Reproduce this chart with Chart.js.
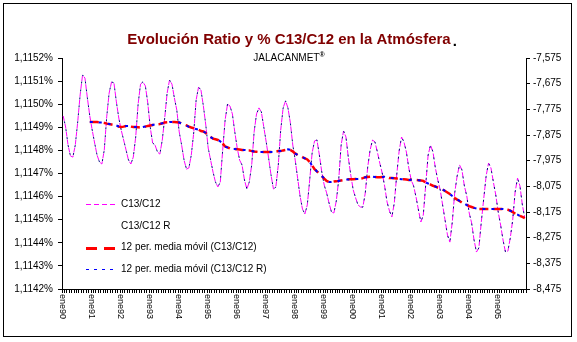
<!doctype html>
<html lang="es">
<head>
    <meta charset="UTF-8">
    <title>Evolución Ratio y % C13/C12 en la Atmósfera</title>
    <script src="https://cdn.jsdelivr.net/npm/chart.js"></script>
    <style>
        body { margin: 0; background: #fff; }
        #grafico { display: block; }
    </style>
</head>
<body>
<canvas id="grafico" width="577" height="342"></canvas>
<script>
// categorías: meses ene90 .. dic05
const meses = ['ene', 'feb', 'mar', 'abr', 'may', 'jun', 'jul', 'ago', 'sep', 'oct', 'nov', 'dic'];
const anios = ['90', '91', '92', '93', '94', '95', '96', '97', '98', '99', '00', '01', '02', '03', '04', '05'];

// marcas de los ejes
const ticksIzq = [1.1142, 1.1143, 1.1144, 1.1145, 1.1146, 1.1147, 1.1148, 1.1149, 1.1150, 1.1151, 1.1152];
const ticksDer = [-8.475, -8.375, -8.275, -8.175, -8.075, -7.975, -7.875, -7.775, -7.675, -7.575];

// C13/C12 (%), eje izquierdo
const ratio = [
    1.114949, 1.114901, 1.114823, 1.114776, 1.114771, 1.114823, 1.114923, 1.115040, 1.115126, 1.115113, 1.115027, 1.114949,
    1.114888, 1.114832, 1.114780, 1.114750, 1.114741, 1.114802, 1.114945, 1.115048, 1.115096, 1.115092, 1.115010, 1.114940,
    1.114888, 1.114845, 1.114802, 1.114758, 1.114741, 1.114771, 1.114858, 1.115001, 1.115087, 1.115096, 1.115079, 1.115005,
    1.114901, 1.114832, 1.114823, 1.114793, 1.114784, 1.114845, 1.114940, 1.115048, 1.115105, 1.115087, 1.115027, 1.114975,
    1.114880, 1.114823, 1.114758, 1.114719, 1.114724, 1.114780, 1.114875, 1.115018, 1.115074, 1.115061, 1.114992, 1.114910,
    1.114810, 1.114758, 1.114706, 1.114663, 1.114642, 1.114663, 1.114802, 1.114932, 1.115001, 1.114992, 1.114958, 1.114880,
    1.114810, 1.114758, 1.114737, 1.114672, 1.114633, 1.114663, 1.114737, 1.114880, 1.114958, 1.114984, 1.114966, 1.114901,
    1.114836, 1.114767, 1.114693, 1.114633, 1.114642, 1.114737, 1.114888, 1.114984, 1.115014, 1.114984, 1.114919, 1.114823,
    1.114758, 1.114680, 1.114603, 1.114546, 1.114525, 1.114564, 1.114672, 1.114789, 1.114841, 1.114845, 1.114780, 1.114706,
    1.114650, 1.114616, 1.114572, 1.114533, 1.114529, 1.114581, 1.114672, 1.114823, 1.114884, 1.114858, 1.114767, 1.114693,
    1.114629, 1.114594, 1.114564, 1.114555, 1.114555, 1.114616, 1.114728, 1.114802, 1.114845, 1.114836, 1.114793, 1.114745,
    1.114702, 1.114646, 1.114577, 1.114538, 1.114512, 1.114572, 1.114693, 1.114797, 1.114858, 1.114836, 1.114793, 1.114724,
    1.114672, 1.114646, 1.114598, 1.114542, 1.114490, 1.114520, 1.114650, 1.114780, 1.114823, 1.114793, 1.114724, 1.114672,
    1.114629, 1.114564, 1.114499, 1.114434, 1.114403, 1.114490, 1.114616, 1.114689, 1.114737, 1.114715, 1.114646, 1.114603,
    1.114529, 1.114486, 1.114412, 1.114360, 1.114378, 1.114490, 1.114590, 1.114689, 1.114745, 1.114724, 1.114663, 1.114607,
    1.114533, 1.114477, 1.114412, 1.114360, 1.114364, 1.114421, 1.114499, 1.114620, 1.114680, 1.114646, 1.114564, 1.114507
];

// C13/C12 R (delta, por mil), eje derecho
const delta = [
    -7.801, -7.844, -7.914, -7.957, -7.961, -7.914, -7.824, -7.719, -7.641, -7.653, -7.731, -7.801,
    -7.856, -7.906, -7.953, -7.980, -7.988, -7.933, -7.805, -7.711, -7.668, -7.672, -7.746, -7.809,
    -7.856, -7.894, -7.933, -7.972, -7.988, -7.961, -7.883, -7.754, -7.676, -7.668, -7.684, -7.750,
    -7.844, -7.906, -7.914, -7.941, -7.949, -7.894, -7.809, -7.711, -7.661, -7.676, -7.731, -7.778,
    -7.863, -7.914, -7.972, -8.007, -8.004, -7.953, -7.867, -7.739, -7.688, -7.700, -7.762, -7.836,
    -7.926, -7.972, -8.019, -8.058, -8.078, -8.058, -7.933, -7.817, -7.754, -7.762, -7.793, -7.863,
    -7.926, -7.972, -7.992, -8.050, -8.085, -8.058, -7.992, -7.863, -7.793, -7.770, -7.785, -7.844,
    -7.902, -7.965, -8.031, -8.085, -8.078, -7.992, -7.856, -7.770, -7.742, -7.770, -7.828, -7.914,
    -7.972, -8.043, -8.113, -8.163, -8.183, -8.148, -8.050, -7.945, -7.898, -7.894, -7.953, -8.019,
    -8.070, -8.101, -8.140, -8.175, -8.179, -8.132, -8.050, -7.914, -7.859, -7.883, -7.965, -8.031,
    -8.089, -8.120, -8.148, -8.156, -8.156, -8.101, -8.000, -7.933, -7.894, -7.902, -7.941, -7.984,
    -8.023, -8.074, -8.136, -8.171, -8.194, -8.140, -8.031, -7.937, -7.883, -7.902, -7.941, -8.004,
    -8.050, -8.074, -8.117, -8.167, -8.214, -8.187, -8.070, -7.953, -7.914, -7.941, -8.004, -8.050,
    -8.089, -8.148, -8.206, -8.265, -8.292, -8.214, -8.101, -8.035, -7.992, -8.011, -8.074, -8.113,
    -8.179, -8.218, -8.284, -8.331, -8.315, -8.214, -8.124, -8.035, -7.984, -8.004, -8.058, -8.109,
    -8.175, -8.226, -8.284, -8.331, -8.327, -8.276, -8.206, -8.097, -8.043, -8.074, -8.148, -8.198
];

// 12 per. media móvil
const mediaRatio = [
    null, null, null, null, null, null, null, null, null, null, null, 1.114923,
    1.114923, 1.114923, 1.114923, 1.114922, 1.114921, 1.114919, 1.114916, 1.114914, 1.114912, 1.114910, 1.114908, 1.114903,
    1.114901, 1.114903, 1.114906, 1.114906, 1.114903, 1.114901, 1.114901, 1.114900, 1.114899, 1.114901, 1.114903, 1.114906,
    1.114908, 1.114910, 1.114912, 1.114913, 1.114914, 1.114917, 1.114921, 1.114922, 1.114923, 1.114923, 1.114923, 1.114922,
    1.114921, 1.114916, 1.114912, 1.114908, 1.114903, 1.114899, 1.114896, 1.114893, 1.114890, 1.114884, 1.114882, 1.114875,
    1.114864, 1.114858, 1.114851, 1.114848, 1.114845, 1.114838, 1.114830, 1.114817, 1.114813, 1.114808, 1.114806, 1.114806,
    1.114805, 1.114804, 1.114802, 1.114802, 1.114800, 1.114800, 1.114797, 1.114795, 1.114794, 1.114793, 1.114793, 1.114793,
    1.114793, 1.114793, 1.114793, 1.114793, 1.114795, 1.114797, 1.114797, 1.114800, 1.114802, 1.114804, 1.114802, 1.114795,
    1.114787, 1.114780, 1.114777, 1.114771, 1.114766, 1.114761, 1.114750, 1.114735, 1.114719, 1.114709, 1.114700, 1.114689,
    1.114678, 1.114668, 1.114663, 1.114663, 1.114665, 1.114666, 1.114668, 1.114670, 1.114672, 1.114674, 1.114675, 1.114675,
    1.114675, 1.114676, 1.114676, 1.114678, 1.114680, 1.114684, 1.114685, 1.114686, 1.114686, 1.114685, 1.114684, 1.114684,
    1.114685, 1.114686, 1.114683, 1.114680, 1.114680, 1.114679, 1.114678, 1.114676, 1.114675, 1.114675, 1.114674, 1.114672,
    1.114672, 1.114672, 1.114672, 1.114671, 1.114670, 1.114668, 1.114661, 1.114657, 1.114652, 1.114647, 1.114644, 1.114639,
    1.114636, 1.114631, 1.114624, 1.114618, 1.114611, 1.114603, 1.114594, 1.114587, 1.114581, 1.114574, 1.114570, 1.114564,
    1.114559, 1.114555, 1.114551, 1.114548, 1.114546, 1.114546, 1.114546, 1.114546, 1.114546, 1.114546, 1.114546, 1.114546,
    1.114546, 1.114546, 1.114546, 1.114545, 1.114543, 1.114539, 1.114533, 1.114527, 1.114523, 1.114516, 1.114512, 1.114507
];

const mediaDelta = [
    null, null, null, null, null, null, null, null, null, null, null, -7.824,
    -7.824, -7.824, -7.824, -7.826, -7.826, -7.828, -7.830, -7.832, -7.834, -7.836, -7.838, -7.842,
    -7.844, -7.842, -7.840, -7.840, -7.842, -7.844, -7.844, -7.845, -7.846, -7.844, -7.842, -7.840,
    -7.838, -7.836, -7.834, -7.833, -7.832, -7.829, -7.826, -7.826, -7.824, -7.824, -7.824, -7.825,
    -7.826, -7.830, -7.834, -7.838, -7.843, -7.846, -7.849, -7.852, -7.854, -7.859, -7.861, -7.867,
    -7.877, -7.883, -7.889, -7.892, -7.894, -7.900, -7.908, -7.920, -7.924, -7.928, -7.930, -7.930,
    -7.931, -7.931, -7.933, -7.933, -7.935, -7.935, -7.937, -7.939, -7.940, -7.941, -7.941, -7.941,
    -7.941, -7.941, -7.941, -7.941, -7.939, -7.937, -7.937, -7.935, -7.933, -7.931, -7.933, -7.939,
    -7.947, -7.953, -7.956, -7.961, -7.966, -7.970, -7.980, -7.994, -8.007, -8.017, -8.025, -8.035,
    -8.044, -8.054, -8.058, -8.058, -8.057, -8.055, -8.054, -8.052, -8.050, -8.048, -8.048, -8.048,
    -8.047, -8.046, -8.046, -8.045, -8.043, -8.040, -8.039, -8.037, -8.037, -8.039, -8.039, -8.040,
    -8.039, -8.038, -8.041, -8.043, -8.043, -8.044, -8.045, -8.046, -8.047, -8.048, -8.049, -8.050,
    -8.050, -8.050, -8.050, -8.051, -8.052, -8.054, -8.060, -8.064, -8.068, -8.073, -8.076, -8.080,
    -8.083, -8.087, -8.093, -8.099, -8.105, -8.113, -8.120, -8.126, -8.132, -8.138, -8.142, -8.148,
    -8.152, -8.156, -8.159, -8.161, -8.163, -8.163, -8.163, -8.163, -8.163, -8.163, -8.163, -8.163,
    -8.163, -8.163, -8.163, -8.164, -8.166, -8.170, -8.175, -8.181, -8.185, -8.191, -8.194, -8.198
];

const labels = [];
anios.forEach(a => meses.forEach(m => labels.push(m + a)));

const titulo = 'Evolución Ratio y % C13/C12 en la Atmósfera';
const subtitulo = 'JALACANMET';
const fuente = "'Liberation Sans', Arial, sans-serif";

// orden de la leyenda: índice del dataset y si lleva muestra de línea
const leyenda = [
    { ds: 3, linea: true, ancho: 1, guion: [5, 3] },
    { ds: 2, linea: false },
    { ds: 1, linea: true, ancho: 3, guion: [11, 7] },
    { ds: 0, linea: true, ancho: 1, guion: [3, 5] }
];

const decorado = {
    id: 'decorado',
    afterDraw(chart) {
        const ctx = chart.ctx;
        const x = chart.scales.x;
        ctx.save();

        // marco exterior
        ctx.strokeStyle = '#000';
        ctx.lineWidth = 1;
        ctx.setLineDash([]);
        ctx.strokeRect(3.5, 3.5, 568, 333);

        // titulo
        ctx.font = 'bold 15px ' + fuente;
        ctx.textBaseline = 'alphabetic';
        ctx.textAlign = 'left';
        const w = ctx.measureText(titulo).width;
        const tx = 289 - w / 2;
        ctx.fillStyle = '#800000';
        ctx.fillText(titulo, tx, 44);
        ctx.fillStyle = '#000';
        ctx.fillText('.', tx + w + 2, 46);

        // subtitulo con (R)
        ctx.font = '10px ' + fuente;
        const w1 = ctx.measureText(subtitulo).width;
        ctx.font = 'bold 7px ' + fuente;
        const w2 = ctx.measureText('®').width;
        const sx = 289 - (w1 + w2) / 2;
        ctx.font = '10px ' + fuente;
        ctx.fillText(subtitulo, sx, 61);
        ctx.font = 'bold 7px ' + fuente;
        ctx.fillText('®', sx + w1, 57);

        // leyenda dentro del area
        ctx.font = '10px ' + fuente;
        ctx.textBaseline = 'middle';
        leyenda.forEach((item, k) => {
            const ds = chart.data.datasets[item.ds];
            const y = 204 + k * 21.8;
            if (item.linea) {
                ctx.strokeStyle = ds.borderColor;
                ctx.lineWidth = item.ancho;
                ctx.setLineDash(item.guion);
                ctx.beginPath();
                ctx.moveTo(86, Math.round(y) + 0.5);
                ctx.lineTo(117, Math.round(y) + 0.5);
                ctx.stroke();
            }
            ctx.fillStyle = '#000';
            ctx.fillText(ds.label, 121, y);
        });

        // etiquetas del eje x (giradas hacia abajo)
        ctx.font = '9px ' + fuente;
        ctx.textAlign = 'left';
        ctx.textBaseline = 'middle';
        labels.forEach((lab, i) => {
            if (i % 12 !== 0) return;
            const px = x.getPixelForValue(i) - 1;
            ctx.save();
            ctx.translate(px, 294);
            ctx.rotate(Math.PI / 2);
            ctx.fillText(lab, 0, 0);
            ctx.restore();
        });

        ctx.restore();
    }
};

new Chart(document.getElementById('grafico'), {
    type: 'line',
    data: {
        labels: labels,
        datasets: [
            {
                label: '12 per. media móvil (C13/C12 R)',
                data: mediaDelta,
                yAxisID: 'yDer',
                borderColor: '#0000FF',
                borderWidth: 2,
                borderDash: [3, 6]
            },
            {
                label: '12 per. media móvil (C13/C12)',
                data: mediaRatio,
                yAxisID: 'yIzq',
                borderColor: '#FF0000',
                borderWidth: 2.5,
                borderDash: [9, 5]
            },
            {
                label: 'C13/C12 R',
                data: delta,
                yAxisID: 'yDer',
                borderColor: '#000080',
                borderWidth: 1,
                borderDash: [2, 6],
                borderDashOffset: 2.5
            },
            {
                label: 'C13/C12',
                data: ratio,
                yAxisID: 'yIzq',
                borderColor: '#FF00FF',
                borderWidth: 1,
                borderDash: [5, 3]
            }
        ]
    },
    options: {
        responsive: false,
        animation: false,
        devicePixelRatio: 1,
        elements: {
            point: { radius: 0 },
            line: { tension: 0, fill: false }
        },
        layout: { padding: { top: 58, left: 0, right: 0, bottom: 0 } },
        plugins: {
            legend: { display: false },
            title: { display: false },
            tooltip: { enabled: false }
        },
        scales: {
            x: {
                type: 'category',
                offset: true,
                ticks: { display: false },
                grid: { display: true, drawOnChartArea: false, offset: true, tickLength: 4, color: '#000' },
                border: { display: true, color: '#000' },
                afterFit: s => { s.height = 53; }
            },
            yIzq: {
                position: 'left',
                min: 1.1142,
                max: 1.1152,
                afterBuildTicks: s => { s.ticks = ticksIzq.map(v => ({ value: v })); },
                ticks: {
                    color: '#000',
                    padding: 5,
                    font: { family: fuente, size: 10 },
                    callback: v => v.toFixed(4).replace('.', ',') + '%'
                },
                grid: { drawOnChartArea: false, tickLength: 4, color: '#000' },
                border: { display: true, color: '#000' },
                afterFit: s => { s.width = 62; }
            },
            yDer: {
                position: 'right',
                min: -8.475,
                max: -7.575,
                afterBuildTicks: s => { s.ticks = ticksDer.map(v => ({ value: v })); },
                ticks: {
                    color: '#000',
                    padding: 3,
                    font: { family: fuente, size: 10 },
                    callback: v => v.toFixed(3).replace('.', ',')
                },
                grid: { drawOnChartArea: false, tickLength: 4, color: '#000' },
                border: { display: true, color: '#000' },
                afterFit: s => { s.width = 51; }
            }
        }
    },
    plugins: [decorado]
});
</script>
</body>
</html>
